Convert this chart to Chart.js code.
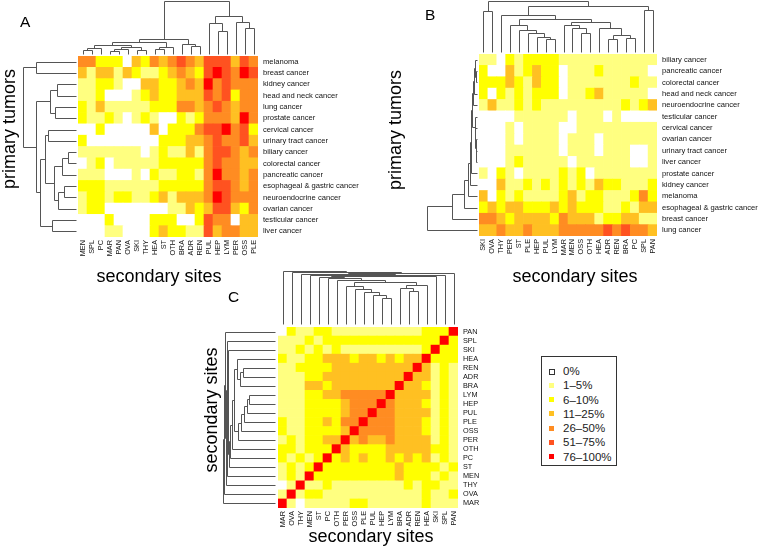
<!DOCTYPE html>
<html>
<head>
<meta charset="utf-8">
<script src="https://cdn.jsdelivr.net/npm/chart.js@4.4.1/dist/chart.umd.min.js"></script>
<style>
  body { margin: 0; background: #fff; width: 763px; height: 547px; position: relative; overflow: hidden; font-family: "Liberation Sans", Arial, sans-serif; }
  canvas { position: absolute; }
  .tag { position: absolute; font-size: 15.5px; line-height: 1; color: #000; }
  #legend { position: absolute; left: 541px; top: 356px; width: 76px; height: 110px; border: 1px solid #333; box-sizing: border-box; padding-top: 7px; }
  #legend div { height: 14.3px; line-height: 14.3px; font-size: 11.5px; color: #222; position: relative; padding-left: 21px; }
  #legend span { position: absolute; left: 7px; top: 4.5px; width: 5px; height: 5px; }
</style>
</head>
<body>
<canvas id="panelA" width="380" height="295" style="left:0;top:0"></canvas>
<canvas id="panelB" width="383" height="295" style="left:380px;top:0"></canvas>
<canvas id="panelC" width="320" height="285" style="left:180px;top:262px"></canvas>
<div class="tag" style="left:20px;top:14px">A</div>
<div class="tag" style="left:425px;top:7px">B</div>
<div class="tag" style="left:228px;top:289px">C</div>
<div id="legend"></div>
<script>
// heat colour per class
const levelColors = ["#FFFFFF", "#FFFF80", "#FFFF00", "#FFC022", "#FF8C22", "#FF5220", "#FF0000"];
const levelLabels = ["0%", "1–5%", "6–10%", "11–25%", "26–50%", "51–75%", "76–100%"];

// ---- panel A ----
const aCols = ["MEN", "SPL", "PC", "MAR", "PAN", "OVA", "SKI", "THY", "HEA", "ST", "OTH", "BRA", "ADR", "REN", "PUL", "HEP", "LYM", "PER", "OSS", "PLE"];
const aRows = ["melanoma", "breast cancer", "kidney cancer", "head and neck cancer", "lung cancer", "prostate cancer", "cervical cancer", "urinary tract cancer", "biliary cancer", "colorectal cancer", "pancreatic cancer", "esophageal & gastric cancer", "neuroendocrine cancer", "ovarian cancer", "testicular cancer", "liver cancer"];
const aCells = [
  [4,4,2,2,2,0,3,2,4,3,4,5,4,3,5,5,5,3,5,4],
  [3,1,3,3,1,3,2,1,1,2,3,4,3,2,5,6,5,4,6,5],
  [1,1,2,2,1,0,0,3,3,2,2,3,4,3,6,4,5,4,4,4],
  [1,1,2,0,0,0,1,2,3,2,2,3,3,3,5,4,5,2,4,4],
  [2,1,3,1,1,1,1,1,2,2,2,4,4,3,4,5,4,3,4,4],
  [2,1,1,2,1,0,1,2,1,0,0,2,1,2,4,4,4,3,6,4],
  [0,0,2,0,0,0,0,0,3,0,2,2,2,4,5,5,6,4,5,2],
  [2,0,0,0,0,0,0,0,0,2,2,2,3,3,4,5,4,4,5,3],
  [1,1,1,1,1,1,1,0,1,2,1,1,3,1,4,5,5,4,3,4],
  [0,1,2,0,1,1,1,1,1,2,2,2,2,2,4,5,4,4,3,3],
  [1,1,1,0,0,0,1,0,2,1,1,2,2,1,4,6,4,4,3,4],
  [2,2,2,1,1,1,1,1,1,2,2,2,2,2,4,5,5,4,3,4],
  [1,2,2,1,2,2,1,1,2,3,1,3,3,3,4,6,5,4,4,4],
  [1,2,2,0,0,0,0,0,0,0,1,1,3,2,3,5,5,3,2,4],
  [0,0,0,2,0,0,0,0,2,2,2,0,0,2,5,4,4,0,3,3],
  [0,0,0,1,1,0,0,0,2,3,2,2,1,1,5,3,4,4,3,3]
];
// dendrograms: merge pairs (negative = leaf position, 1-based) and merge heights
const aColMerges = [[-1,-2],[1,-3],[-4,-5],[3,-6],[-7,-8],[4,5],[2,6],[-9,-10],[8,-11],[-13,-14],[-12,10],[7,9],[12,11],[-16,-17],[-15,14],[-19,-20],[-18,16],[15,17],[13,18]];
const aColHeights = [4,6,3,5,4,7,9,5,7,8,10,12,15,23,31,26,32,38,53];
const aRowMerges = [[-1,-2],[-3,-4],[-5,-6],[2,3],[-7,-8],[-9,-10],[6,-11],[-12,-13],[8,-14],[7,9],[5,10],[-15,-16],[11,12],[4,13],[1,14]];
const aRowHeights = [40,19,21,26,28,8,14,12,18,22,31,24,36,40,53];

// ---- panel B ----
const bCols = ["SKI", "OVA", "THY", "PER", "ST", "PLE", "HEP", "PUL", "LYM", "MAR", "MEN", "OSS", "OTH", "HEA", "ADR", "REN", "BRA", "PC", "SPL", "PAN"];
const bRows = ["biliary cancer", "pancreatic cancer", "colorectal cancer", "head and neck cancer", "neuroendocrine cancer", "testicular cancer", "cervical cancer", "ovarian cancer", "urinary tract cancer", "liver cancer", "prostate cancer", "kidney cancer", "melanoma", "esophageal & gastric cancer", "breast cancer", "lung cancer"];
const bCells = [
  [1,1,0,2,1,2,2,2,2,1,1,1,1,1,1,1,1,1,1,1],
  [2,0,0,3,1,2,3,2,2,0,1,1,1,2,1,1,1,1,1,0],
  [2,2,2,3,2,1,3,2,2,0,1,1,1,1,1,1,1,2,1,1],
  [2,0,2,1,2,1,2,2,2,0,1,1,2,3,1,1,1,1,1,0],
  [1,3,1,1,2,1,2,1,1,1,1,1,1,1,1,1,2,1,2,3],
  [0,0,0,0,1,1,1,1,1,1,0,1,1,1,0,1,0,0,0,0],
  [0,0,0,1,0,1,1,1,1,0,0,1,1,1,1,1,1,1,1,1],
  [0,0,0,1,0,1,1,1,1,0,1,1,1,0,1,1,1,1,1,1],
  [0,0,0,1,1,1,1,1,1,0,1,1,1,0,1,1,1,0,0,1],
  [0,0,0,1,2,1,1,1,1,1,0,1,1,1,1,1,1,0,0,1],
  [1,0,2,1,0,1,1,1,1,2,1,2,0,1,1,1,1,1,1,1],
  [0,0,3,1,1,2,1,2,1,2,1,2,1,3,2,2,1,1,1,2],
  [3,0,2,1,2,1,1,1,1,2,3,1,2,2,1,1,1,2,4,2],
  [2,3,2,3,3,2,2,2,3,2,3,2,2,2,1,1,2,1,3,3],
  [4,4,3,2,3,3,3,3,2,4,3,3,3,1,2,2,3,3,1,1],
  [3,3,4,3,3,4,3,3,3,4,4,4,4,4,5,4,5,4,4,3]
];
const bColMerges = [[-1,-2],[-8,-9],[-7,2],[-6,3],[-5,4],[-4,5],[-12,-13],[-11,7],[-10,8],[-15,-16],[-17,-18],[10,11],[-14,12],[9,13],[6,14],[-3,15],[-19,-20],[16,17],[1,18]];
const bColHeights = [41,13,15,19,22,27,19,24,27,13,14,17,24,30,33,37,42,46,51];
const bRowMerges = [[-2,-3],[-1,1],[2,-4],[3,-5],[-9,-10],[-8,5],[-7,6],[-6,7],[4,8],[9,-11],[10,-12],[11,-13],[12,-14],[13,-15],[14,-16]];
const bRowHeights = [1,2,3,4,0.8,1.2,1.6,2,5,6,7.5,9,13,25,50];

// ---- panel C ----
const cCols = ["MAR", "OVA", "THY", "MEN", "ST", "PC", "OTH", "PER", "OSS", "PLE", "PUL", "HEP", "LYM", "BRA", "ADR", "REN", "HEA", "SKI", "SPL", "PAN"];
const cRows = ["PAN", "SPL", "SKI", "HEA", "REN", "ADR", "BRA", "LYM", "HEP", "PUL", "PLE", "OSS", "PER", "OTH", "PC", "ST", "MEN", "THY", "OVA", "MAR"];
const cCells = [
  [0,2,1,1,2,2,1,1,1,1,1,1,1,1,1,1,2,2,2,6],
  [1,1,1,2,1,2,2,2,2,2,2,2,2,2,2,2,2,2,6,2],
  [1,1,2,1,2,1,2,1,1,1,1,1,1,1,1,1,2,6,2,2],
  [2,1,1,2,2,3,3,3,2,3,3,2,3,2,3,3,6,2,2,2],
  [1,1,2,2,2,2,3,3,3,3,3,3,3,3,3,6,3,1,2,1],
  [1,1,1,2,2,3,3,3,3,3,3,3,3,3,6,3,3,1,2,1],
  [1,1,1,3,3,2,3,3,3,3,3,3,3,6,3,3,2,1,2,1],
  [1,1,1,2,2,3,3,4,4,4,4,4,6,3,3,3,3,1,2,1],
  [1,1,1,2,2,2,2,3,4,4,4,6,4,3,3,3,2,1,2,1],
  [1,1,1,2,2,2,2,3,4,4,6,4,4,3,3,3,3,1,2,1],
  [2,1,1,2,2,3,2,4,4,6,4,4,4,3,3,3,2,1,2,1],
  [2,1,1,2,2,2,2,3,6,4,4,4,4,3,3,3,2,1,2,1],
  [1,2,1,2,2,3,3,6,3,4,3,3,4,3,3,3,3,1,2,1],
  [2,2,1,2,2,2,6,3,2,2,2,2,3,3,3,3,3,2,2,1],
  [2,1,2,1,2,6,2,3,2,3,2,2,3,2,3,2,3,1,2,1],
  [1,2,1,2,6,2,2,2,2,2,2,2,2,3,2,2,2,2,1,2],
  [1,2,1,6,2,2,2,2,2,2,2,2,2,3,2,2,2,1,2,1],
  [0,1,6,1,1,2,1,1,1,1,1,1,1,1,2,1,2,2,1,1],
  [1,6,1,2,2,1,1,1,1,1,1,1,1,1,1,1,2,1,1,2],
  [6,1,0,1,1,1,1,1,2,2,1,1,1,1,1,1,2,1,1,1]
];
const cMerges = [[-12,-13],[-11,1],[-10,2],[-9,3],[-8,4],[-15,-16],[-14,6],[7,-17],[5,8],[-7,9],[-6,10],[-5,11],[12,-18],[-4,13],[14,-19],[-3,15],[16,-20],[-2,17],[-1,18]];
const cHeights = [26,28,31,34,37,32,35,38,41,43,45,46,47,48,48.5,49.5,50,51,52];

function drawTree(ctx, merges, heights, leafPos, base, tip, vertical) {
  const maxH = heights[heights.length - 1];
  const at = h => base + (tip - base) * h / maxH;
  const pos = [], hgt = [];
  const p = k => k < 0 ? leafPos(-k - 1) : pos[k - 1];
  const hh = k => k < 0 ? 0 : hgt[k - 1];
  const px = v => Math.round(v) + 0.5;
  ctx.beginPath();
  merges.forEach(([a, b], i) => {
    const h = heights[i];
    const pts = [[p(a), at(hh(a))], [p(a), at(h)], [p(b), at(h)], [p(b), at(hh(b))]];
    pts.forEach(([s, t], j) => {
      const x = vertical ? px(s) : px(t), y = vertical ? px(t) : px(s);
      j === 0 ? ctx.moveTo(x, y) : ctx.lineTo(x, y);
    });
    pos.push((p(a) + p(b)) / 2);
    hgt.push(h);
  });
  ctx.stroke();
}

const FONT = "'Liberation Sans', Arial, sans-serif";

// dendrograms plus the axis titles, placed where the reference puts them
const dendroPlugin = {
  id: "dendro",
  afterDraw(chart, args, o) {
    const { ctx, chartArea, scales } = chart;
    ctx.save();
    ctx.strokeStyle = "#555";
    ctx.lineWidth = 1;
    drawTree(ctx, o.colMerges, o.colHeights, i => scales.x.getPixelForValue(i), chartArea.top - o.gap, o.colTop, true);
    const rowPos = o.rowsReversed ? (i => scales.yr.getPixelForValue(o.n - 1 - i)) : (i => scales.yr.getPixelForValue(i));
    drawTree(ctx, o.rowMerges, o.rowHeights, rowPos, chartArea.left - o.gap, o.rowLeft, false);

    ctx.fillStyle = "#000";
    ctx.font = "18px " + FONT;
    ctx.textAlign = "center";
    ctx.textBaseline = "middle";
    ctx.fillText(o.xTitle, o.xTitleAt[0], o.xTitleAt[1]);
    ctx.translate(o.yTitleAt[0], o.yTitleAt[1]);
    ctx.rotate(-Math.PI / 2);
    ctx.fillText(o.yTitle, 0, 0);
    ctx.restore();
  }
};

function heatmap(id, cols, rows, cells, lay, tree) {
  const datasets = [];
  for (let r = rows.length - 1; r >= 0; r--) {
    datasets.push({
      label: rows[r],
      data: cols.map(() => 1),
      backgroundColor: cells[r].map(v => levelColors[v]),
      borderWidth: 0,
      barPercentage: 1,
      categoryPercentage: 1
    });
  }
  return new Chart(document.getElementById(id), {
    type: "bar",
    data: { labels: cols, datasets },
    options: {
      responsive: false,
      animation: false,
      events: [],
      layout: { padding: { top: lay.top, left: 0, right: 0, bottom: 0 } },
      plugins: { legend: { display: false }, tooltip: { enabled: false }, dendro: tree },
      scales: {
        x: {
          stacked: true,
          grid: { display: false, drawTicks: false },
          border: { display: false },
          ticks: { autoSkip: false, minRotation: 90, maxRotation: 90, padding: 3, color: "#111", font: { family: FONT, size: 7.3 } },
          afterFit: s => { s.height = lay.bottomH; }
        },
        y: {
          stacked: true, min: 0, max: rows.length,
          grid: { display: false, drawTicks: false },
          border: { display: false },
          ticks: { display: false },
          afterFit: s => { s.width = lay.leftW; }
        },
        yr: {
          type: "category", position: "right", labels: rows, offset: true,
          grid: { display: false, drawTicks: false },
          border: { display: false },
          ticks: { autoSkip: false, padding: 5, color: "#111", font: { family: FONT, size: lay.rowFont } },
          afterFit: s => { s.width = lay.rightW; }
        }
      }
    },
    plugins: [dendroPlugin]
  });
}

heatmap("panelA", aCols, aRows, aCells,
  { top: 56, bottomH: 58, leftW: 78, rightW: 122, rowFont: 7.6 },
  { colMerges: aColMerges, colHeights: aColHeights, rowMerges: aRowMerges, rowHeights: aRowHeights, gap: 2, colTop: 1, rowLeft: 23, n: aRows.length, rowsReversed: false,
    xTitle: "secondary sites", xTitleAt: [159, 277], yTitle: "primary tumors", yTitleAt: [10, 129] });

heatmap("panelB", bCols, bRows, bCells,
  { top: 54, bottomH: 59, leftW: 99, rightW: 106, rowFont: 7.6 },
  { colMerges: bColMerges, colHeights: bColHeights, rowMerges: bRowMerges, rowHeights: bRowHeights, gap: 2, colTop: 1, rowLeft: 47, n: bRows.length, rowsReversed: false,
    xTitle: "secondary sites", xTitleAt: [195, 277], yTitle: "primary tumors", yTitleAt: [16, 130] });

heatmap("panelC", cCols, cRows, cCells,
  { top: 65, bottomH: 39, leftW: 98, rightW: 42, rowFont: 7.3 },
  { colMerges: cMerges, colHeights: cHeights, rowMerges: cMerges, rowHeights: cHeights, gap: 3, colTop: 9, rowLeft: 43, n: cRows.length, rowsReversed: true,
    xTitle: "secondary sites", xTitleAt: [191, 275], yTitle: "secondary sites", yTitleAt: [32, 148] });

// legend
const legendBox = document.getElementById("legend");
levelLabels.forEach((txt, i) => {
  const row = document.createElement("div");
  const sw = document.createElement("span");
  sw.style.background = levelColors[i];
  if (i === 0) { sw.style.border = "1px solid #333"; sw.style.width = "4px"; sw.style.height = "4px"; }
  row.appendChild(sw);
  row.appendChild(document.createTextNode(txt));
  legendBox.appendChild(row);
});
</script>
</body>
</html>
